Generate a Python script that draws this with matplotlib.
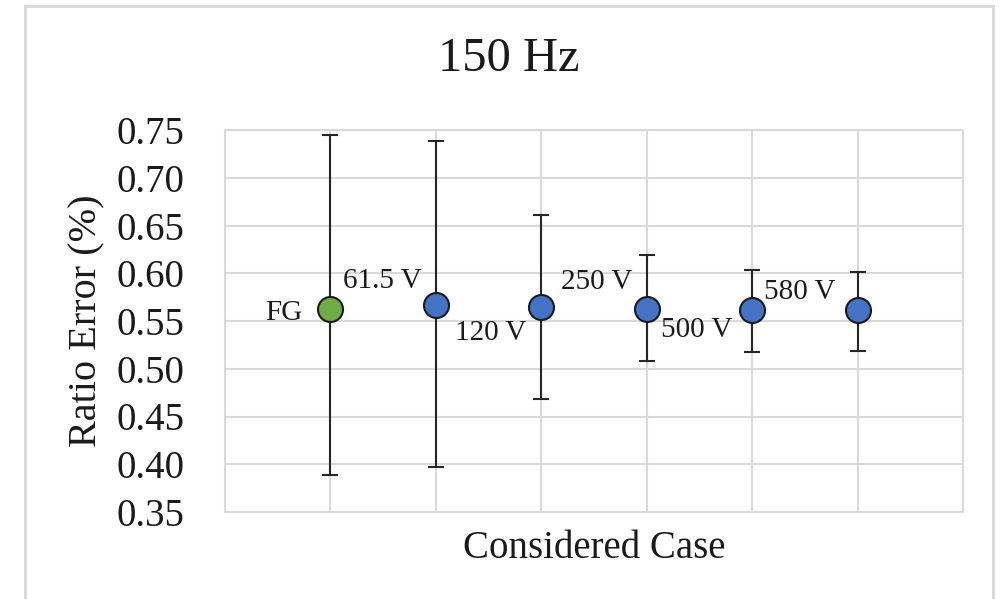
import matplotlib.pyplot as plt
from matplotlib.lines import Line2D

# chart data
cases = ['FG', '61.5 V', '120 V', '250 V', '500 V', '580 V']
ratio_error = [0.563, 0.567, 0.565, 0.563, 0.561, 0.561]
err_upper = [0.745, 0.739, 0.661, 0.619, 0.603, 0.601]
err_lower = [0.389, 0.397, 0.468, 0.508, 0.518, 0.519]
y_ticks = [0.35, 0.40, 0.45, 0.50, 0.55, 0.60, 0.65, 0.70, 0.75]

plt.rcParams['font.family'] = ['Liberation Serif', 'DejaVu Serif']

W, H = 1003, 599
fig = plt.figure(figsize=(W / 100, H / 100), dpi=100)
ax = fig.add_axes([225 / W, 1 - 512 / H, (963 - 225) / W, (512 - 130) / H])

# outer chart frame (open at the bottom, cut off in the reference)
frame_col = '#d9d9d9'
fx0, fx1, fy0 = 25 / W, 993 / W, 1 - 6 / H
fig.add_artist(Line2D([fx0, fx0], [0, fy0], color=frame_col, lw=2))
fig.add_artist(Line2D([fx0, fx1], [fy0, fy0], color=frame_col, lw=2))
fig.add_artist(Line2D([fx1, fx1], [fy0, 0], color=frame_col, lw=2))

x = list(range(1, len(cases) + 1))
colors = ['#70AD47'] + ['#4472C4'] * (len(cases) - 1)
yerr = [[v - lo for v, lo in zip(ratio_error, err_lower)],
        [hi - v for v, hi in zip(ratio_error, err_upper)]]

ax.errorbar(x, ratio_error, yerr=yerr, fmt='none', ecolor='#262626',
            elinewidth=1.5, capsize=6, capthick=1.5, zorder=3)
for xi, yi, c in zip(x, ratio_error, colors):
    ax.plot(xi, yi, 'o', ms=18, mfc=c, mec='#1a1a1a', mew=1.5, zorder=4)

# data labels sit left of their own point: offsets in points (dx, dy)
offsets = [(-20, -3), (-10, 17), (-11, -19), (-10, 19), (-14, -14), (-16, 13)]
for xi, yi, name, (dx, dy) in zip(x, ratio_error, cases, offsets):
    ax.annotate(name, (xi, yi), xytext=(dx, dy), textcoords='offset points',
                ha='right', va='center', fontsize=21, color='#1a1a1a')

ax.set_xlim(0, 7)
ax.set_ylim(0.35, 0.75)
ax.set_xticks(range(0, 8))
ax.tick_params(axis='x', length=0, labelbottom=False)
ax.set_yticks(y_ticks)
ax.set_yticklabels([f'{t:.2f}' for t in y_ticks])
ax.tick_params(axis='y', length=0, labelsize=28, pad=29, colors='#1a1a1a')
ax.grid(True, color='#d9d9d9', lw=1.5)
ax.set_axisbelow(True)
for s in ax.spines.values():
    s.set_color('#d9d9d9')
    s.set_linewidth(1.5)

fig.text(509 / W, 1 - 59 / H, '150 Hz', fontsize=35, ha='center', va='center',
         color='#1a1a1a')
ax.set_ylabel('Ratio Error (%)', fontsize=29, labelpad=8, color='#1a1a1a')
ax.set_xlabel('Considered Case', fontsize=28, labelpad=13, color='#1a1a1a')

fig.savefig('out.png', dpi=100)
